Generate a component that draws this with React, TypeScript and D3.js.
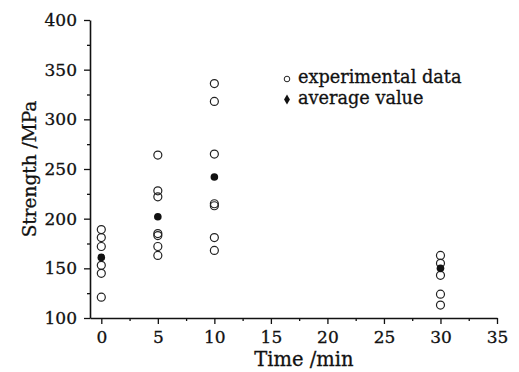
import React, { useRef, useEffect } from "react";
import * as d3 from "d3";

// experimental strength readings per sintering time
const times = [0, 5, 10, 30];
const experimental = [
    [189, 181, 172, 153, 145, 121],
    [264, 228, 222, 185, 183, 172, 163],
    [336, 318, 265, 215, 213, 181, 168],
    [163, 155, 143, 124, 113],
];
const averages = [161, 202, 242, 150];
const xTicks = [0, 5, 10, 15, 20, 25, 30, 35];
const yTicks = [100, 150, 200, 250, 300, 350, 400];
const legendLabels = ["experimental data", "average value"];

const App = () => {
    const ref = useRef<SVGSVGElement | null>(null);

    useEffect(() => {
        const width = 519;
        const height = 372;
        const left = 90;
        const right = 497;
        const top = 20;
        const bottom = 318;
        const font = "'DejaVu Serif', serif";

        const svg = d3.select(ref.current);
        svg.selectAll("*").remove();

        svg.append("rect").attr("width", width).attr("height", height).attr("fill", "#fff");

        const x = d3.scaleLinear().domain([-1, 35]).range([left, right]);
        const y = d3.scaleLinear().domain([100, 400]).range([bottom, top]);

        // minor ticks first
        svg.append("g")
            .attr("transform", `translate(0,${bottom})`)
            .call(d3.axisBottom(x).tickValues(d3.range(2.5, 35, 5)).tickSize(3).tickFormat(() => ""))
            .call((g) => g.select(".domain").remove());
        svg.append("g")
            .attr("transform", `translate(${left},0)`)
            .call(d3.axisLeft(y).tickValues(d3.range(125, 400, 50)).tickSize(3).tickFormat(() => ""))
            .call((g) => g.select(".domain").remove());

        const xAxis = svg.append("g")
            .attr("transform", `translate(0,${bottom})`)
            .call(d3.axisBottom(x).tickValues(xTicks).tickSize(6).tickSizeOuter(0).tickPadding(7));
        const yAxis = svg.append("g")
            .attr("transform", `translate(${left},0)`)
            .call(d3.axisLeft(y).tickValues(yTicks).tickSize(6).tickSizeOuter(0).tickPadding(7));

        [xAxis, yAxis].forEach((g) => {
            g.selectAll("text")
                .attr("font-family", font)
                .attr("font-size", 17)
                .attr("fill", "#111")
                .attr("stroke", "#111")
                .attr("stroke-width", 0.3);
            g.select(".domain").attr("stroke", "#111").attr("stroke-width", 1.6);
        });
        svg.selectAll(".tick line").attr("stroke", "#111").attr("stroke-width", 1.3);

        // experimental points
        const pts = experimental.flatMap((vals, i) => vals.map((v) => ({ t: times[i], v })));
        svg.append("g")
            .selectAll("circle")
            .data(pts)
            .join("circle")
            .attr("cx", (d) => x(d.t))
            .attr("cy", (d) => y(d.v))
            .attr("r", 4)
            .attr("fill", "none")
            .attr("stroke", "#222")
            .attr("stroke-width", 1.2);

        // averages
        svg.append("g")
            .selectAll("circle")
            .data(averages)
            .join("circle")
            .attr("cx", (_, i) => x(times[i]))
            .attr("cy", (d) => y(d))
            .attr("r", 3.8)
            .attr("fill", "#111");

        // legend
        const lg = svg.append("g").attr("transform", "translate(287,79)");
        lg.append("circle").attr("r", 2.8).attr("fill", "none").attr("stroke", "#222").attr("stroke-width", 1);
        lg.append("path")
            .attr("d", d3.symbol(d3.symbolDiamond, 30)())
            .attr("transform", "translate(0,20.5)")
            .attr("fill", "#111");
        lg.selectAll("text")
            .data(legendLabels)
            .join("text")
            .attr("x", 11)
            .attr("y", (_, i) => 4 + i * 20.5)
            .attr("font-family", font)
            .attr("font-size", 17.7)
            .attr("fill", "#111")
            .attr("stroke", "#111")
            .attr("stroke-width", 0.3)
            .text((d) => d);

        // axis titles
        svg.append("text")
            .attr("x", 304)
            .attr("y", 366)
            .attr("text-anchor", "middle")
            .attr("font-family", font)
            .attr("font-size", 19.5)
            .attr("fill", "#111")
            .attr("stroke", "#111")
            .attr("stroke-width", 0.3)
            .text("Time /min");
        svg.append("text")
            .attr("transform", `translate(36,${(top + bottom) / 2}) rotate(-90)`)
            .attr("text-anchor", "middle")
            .attr("font-family", font)
            .attr("font-size", 18.5)
            .attr("fill", "#111")
            .attr("stroke", "#111")
            .attr("stroke-width", 0.3)
            .text("Strength /MPa");
    }, []);

    return (
        <svg
            ref={ref}
            width={519}
            height={372}
            viewBox="0 0 519 372"
            style={{ position: "absolute", left: 0, top: 0 }}
        />
    );
};

export default App;
